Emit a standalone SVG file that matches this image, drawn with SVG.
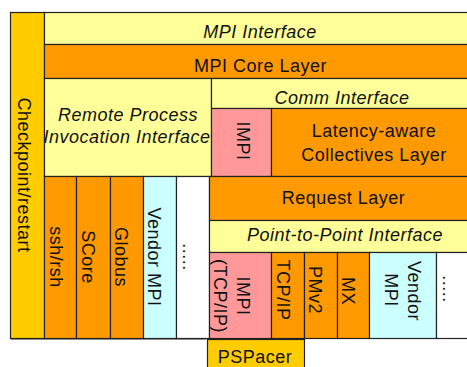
<svg xmlns="http://www.w3.org/2000/svg" width="467" height="367" viewBox="0 0 467 367">
<style>
.b{stroke:#222;stroke-width:1.2}
.y{fill:#FFFF99}.o{fill:#FF9900}.g{fill:#FFCC00}.p{fill:#FF9999}.c{fill:#CCFFFF}.w{fill:#FFFFFF}
.t{font-family:"Liberation Sans",Arial,sans-serif;font-size:18px;letter-spacing:0.5px;fill:#111;text-anchor:middle}
.i{font-style:italic}
</style>
<rect width="467" height="367" fill="#fff"/>
<line x1="11" y1="339.5" x2="206" y2="339.5" stroke="#999" stroke-width="1"/>
<g id="checkpoint"><rect class="b g" x="10.5" y="12.5" width="34" height="326"/><text class="t" transform="translate(18,175) rotate(90)">Checkpoint/restart</text></g>
<g id="mpi-interface"><rect class="b y" x="44.5" y="12.5" width="433" height="32"/><text class="t i" x="260" y="38">MPI Interface</text></g>
<g id="mpi-core"><rect class="b o" x="44.5" y="44.5" width="433" height="34"/><text class="t" x="260.5" y="72">MPI Core Layer</text></g>
<g id="rpi"><rect class="b y" x="44.5" y="78.5" width="167" height="98"/><text class="t i" x="128" y="121">Remote Process</text><text class="t i" x="127" y="143">Invocation Interface</text></g>
<g id="comm-interface"><rect class="b y" x="211.5" y="78.5" width="266" height="30"/><text class="t i" x="342" y="104">Comm Interface</text></g>
<g id="impi-top"><rect class="b p" x="211.5" y="108.5" width="60" height="68"/><text class="t" transform="translate(237,141) rotate(90)">IMPI</text></g>
<g id="latency"><rect class="b o" x="271.5" y="108.5" width="206" height="68"/><text class="t" x="374" y="137">Latency-aware</text><text class="t" x="374" y="161">Collectives Layer</text></g>
<g id="ssh"><rect class="b o" x="44.5" y="176.5" width="32" height="162"/><text class="t" transform="translate(50,257) rotate(90)">ssh/rsh</text></g>
<g id="score"><rect class="b o" x="76.5" y="176.5" width="34" height="162"/><text class="t" transform="translate(82,257) rotate(90)">SCore</text></g>
<g id="globus"><rect class="b o" x="110.5" y="176.5" width="33" height="162"/><text class="t" transform="translate(115,257) rotate(90)">Globus</text></g>
<g id="vendor-left"><rect class="b c" x="143.5" y="176.5" width="33" height="162"/><text class="t" transform="translate(148,257) rotate(90)">Vendor MPI</text></g>
<g id="dots-left"><rect class="b w" x="176.5" y="176.5" width="33" height="162"/><text class="t" transform="translate(183,257) rotate(90)">.....</text></g>
<g id="request"><rect class="b o" x="209.5" y="176.5" width="268" height="44"/><text class="t" x="343.5" y="204">Request Layer</text></g>
<g id="p2p"><rect class="b y" x="209.5" y="220.5" width="268" height="32"/><text class="t i" x="345" y="241">Point-to-Point Interface</text></g>
<g id="impi-tcp"><rect class="b p" x="209.5" y="252.5" width="62" height="86"/><text class="t" transform="translate(237,296) rotate(90)">IMPI</text><text class="t" transform="translate(214,296) rotate(90)">(TCP/IP)</text></g>
<g id="tcpip"><rect class="b o" x="271.5" y="252.5" width="33" height="86"/><text class="t" transform="translate(277,290) rotate(90)">TCP/IP</text></g>
<g id="pmv2"><rect class="b o" x="304.5" y="252.5" width="33" height="86"/><text class="t" transform="translate(309,290) rotate(90)">PMv2</text></g>
<g id="mx"><rect class="b o" x="337.5" y="252.5" width="32" height="86"/><text class="t" transform="translate(342,291) rotate(90)">MX</text></g>
<g id="vendor-right"><rect class="b c" x="369.5" y="252.5" width="67" height="86"/><text class="t" transform="translate(408,291) rotate(90)">Vendor</text><text class="t" transform="translate(385,290) rotate(90)">MPI</text></g>
<g id="dots-right"><rect class="b w" x="436.5" y="252.5" width="41" height="86"/><text class="t" transform="translate(443,289) rotate(90)">.....</text></g>
<g id="pspacer"><rect class="b g" x="207.5" y="339.5" width="97" height="40"/><text class="t" x="255" y="363">PSPacer</text></g>
<g id="connectors"/>
</svg>
